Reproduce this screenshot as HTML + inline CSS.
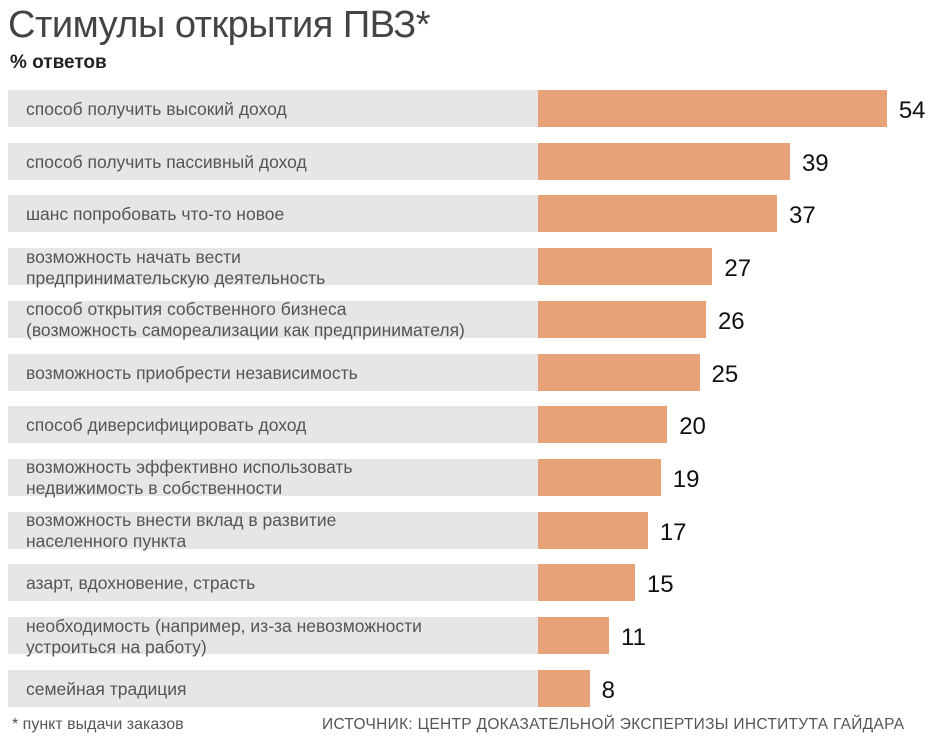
<!DOCTYPE html>
<html><head><meta charset="utf-8"><style>
body{margin:0;width:932px;height:748px;background:#fff;position:relative;overflow:hidden;font-family:"Liberation Sans","DejaVu Sans",sans-serif;}
.t{position:absolute;left:8px;top:4px;font-size:38px;color:#444;letter-spacing:-0.5px}
.s{position:absolute;left:10px;top:52px;font-size:19px;font-weight:bold;color:#222}
.g{position:absolute;left:8px;width:530px;height:37px;background:#e6e6e6}
.l{position:absolute;left:26px;font-size:17.5px;color:#555;line-height:21px;display:flex;align-items:center;height:39px}
.b{position:absolute;left:538px;height:37px;background:#e8a277}
.v{position:absolute;font-size:24px;color:#111;height:37px;line-height:37px}
.f{position:absolute;font-size:16px;color:#555;top:716px;white-space:nowrap}
</style></head><body>
<div class="t">Стимулы открытия ПВЗ*</div>
<div class="s">% ответов</div>
<div id="c"></div>
<div class="f" style="left:12px">* пункт выдачи заказов</div>
<div class="f" style="left:322px;font-size:15.5px;letter-spacing:0.3px">ИСТОЧНИК: ЦЕНТР ДОКАЗАТЕЛЬНОЙ ЭКСПЕРТИЗЫ ИНСТИТУТА ГАЙДАРА</div>
<script>
var d=[["способ получить высокий доход",54],["способ получить пассивный доход",39],["шанс попробовать что-то новое",37],["возможность начать вести<br>предпринимательскую деятельность",27],["способ открытия собственного бизнеса<br>(возможность самореализации как предпринимателя)",26],["возможность приобрести независимость",25],["способ диверсифицировать доход",20],["возможность эффективно использовать<br>недвижимость в собственности",19],["возможность внести вклад в развитие<br>населенного пункта",17],["азарт, вдохновение, страсть",15],["необходимость (например, из-за невозможности<br>устроиться на работу)",11],["семейная традиция",8]];
var h="";
d.forEach(function(r,i){var y=90+i*52.7;var w=r[1]*6.46;
h+='<div class="g" style="top:'+y+'px"></div><div class="l" style="top:'+y+'px">'+r[0]+'</div><div class="b" style="top:'+y+'px;width:'+w+'px"></div><div class="v" style="top:'+(y+2)+'px;left:'+(538+w+12)+'px">'+r[1]+'</div>';});
document.getElementById("c").innerHTML=h;
</script>
</body></html>
